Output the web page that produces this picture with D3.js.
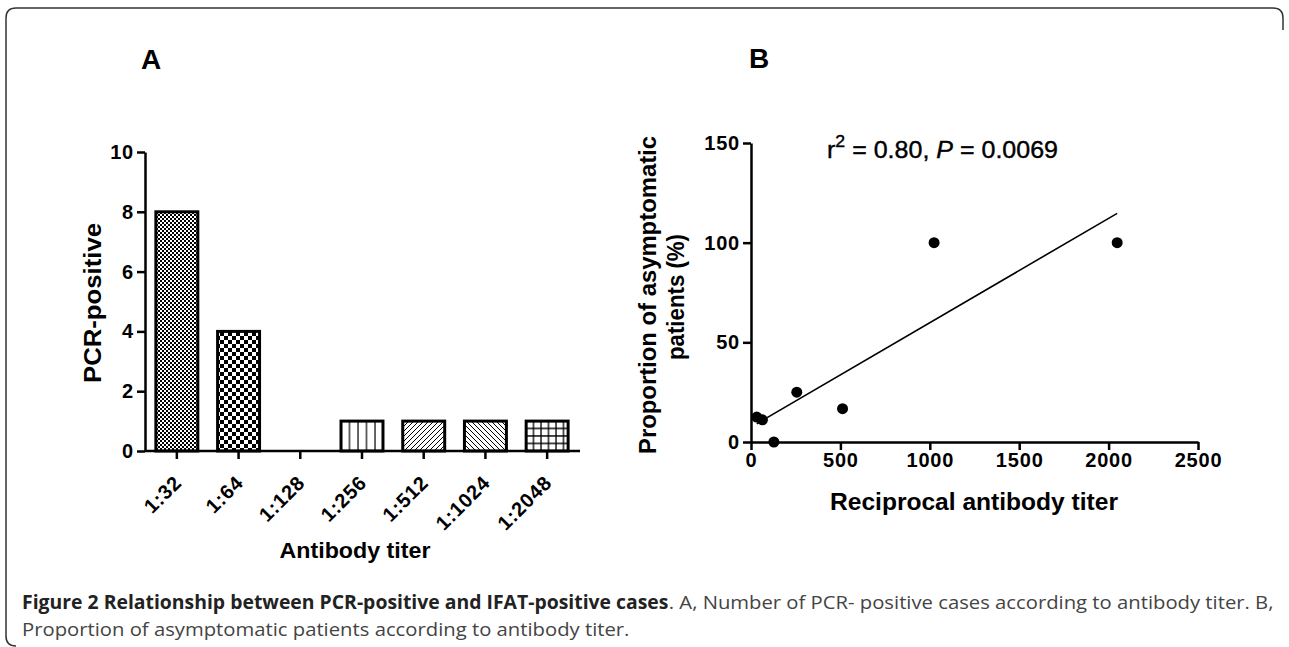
<!DOCTYPE html>
<html>
<head>
<meta charset="utf-8">
<script src="https://cdn.jsdelivr.net/npm/d3@7"></script>
<style>
  body { margin: 0; background: #fff; }
  svg { display: block; }
</style>
</head>
<body>
<svg id="fig" width="1289" height="647"></svg>
<script>
// panel A data
const titerLabels = ["1:32", "1:64", "1:128", "1:256", "1:512", "1:1024", "1:2048"];
const pcrPositive = [8, 4, 0, 1, 1, 1, 1];
const yTicksA = [0, 2, 4, 6, 8, 10];

// panel B data
const reciprocalTiter = [32, 64, 128, 256, 512, 1024, 2048];
const asymptomaticPct = [12.5, 11.1, 0, 25, 16.7, 100, 100];
const xTicksB = [0, 500, 1000, 1500, 2000, 2500];
const yTicksB = [0, 50, 100, 150];

const svg = d3.select("#fig");
const FONT = "'Liberation Sans', Arial, sans-serif";

// frame
svg.append("path")
    .attr("d", "M16,646 Q6,646 6,636 L6,18 Q6,8 16,8 L1273,8 Q1283,8 1283,18 L1283,30")
    .attr("fill", "none")
    .attr("stroke", "#333")
    .attr("stroke-width", 1.5);

// fill patterns for the bars
const defs = svg.append("defs");
function pattern(id, w, h, draw) {
    const p = defs.append("pattern").attr("id", id)
        .attr("patternUnits", "userSpaceOnUse").attr("width", w).attr("height", h);
    p.append("rect").attr("width", w).attr("height", h).attr("fill", "#fff");
    draw(p);
}
pattern("fineCheck", 4, 4, p => {
    p.append("rect").attr("width", 2).attr("height", 2).attr("fill", "#000");
    p.append("rect").attr("x", 2).attr("y", 2).attr("width", 2).attr("height", 2).attr("fill", "#000");
});
pattern("coarseCheck", 8, 8, p => {
    p.append("rect").attr("width", 4).attr("height", 4).attr("fill", "#000");
    p.append("rect").attr("x", 4).attr("y", 4).attr("width", 4).attr("height", 4).attr("fill", "#000");
});
pattern("vLines", 8.5, 8, p => {
    p.append("line").attr("x1", 1).attr("x2", 1).attr("y1", 0).attr("y2", 8).attr("stroke", "#000").attr("stroke-width", 1.2);
});
pattern("diagUp", 5, 5, p => {
    p.append("path").attr("d", "M-1,6 L6,-1 M-1,1 L1,-1 M4,6 L6,4").attr("stroke", "#000").attr("stroke-width", 1);
});
pattern("diagDown", 5, 5, p => {
    p.append("path").attr("d", "M-1,-1 L6,6 M4,-1 L6,1 M-1,4 L1,6").attr("stroke", "#000").attr("stroke-width", 1);
});
pattern("grid", 7.5, 7.5, p => {
    p.append("path").attr("d", "M1,0 V7.5 M0,1 H7.5").attr("stroke", "#000").attr("stroke-width", 1.3);
});
const barFills = ["fineCheck", "coarseCheck", "fineCheck", "vLines", "diagUp", "diagDown", "grid"];

// ---------- panel A ----------
const xA = d3.scaleBand().domain(titerLabels).range([146, 578]).paddingInner(0.32).paddingOuter(0.16);
const yA = d3.scaleLinear().domain([0, 10]).range([451, 152]);

svg.append("text").attr("x", 151).attr("y", 69).attr("text-anchor", "middle")
    .attr("font-family", FONT).attr("font-weight", "bold").attr("font-size", 28).text("A");

const barsA = titerLabels.map((t, i) => ({ t, v: pcrPositive[i], fill: barFills[i] })).filter(d => d.v > 0);
svg.append("g").selectAll("rect")
    .data(barsA)
    .enter().append("rect")
    .attr("x", d => xA(d.t))
    .attr("y", d => yA(d.v))
    .attr("width", xA.bandwidth())
    .attr("height", d => yA(0) - yA(d.v))
    .attr("fill", d => "url(#" + d.fill + ")")
    .attr("stroke", "#000")
    .attr("stroke-width", 3);

const yAxisA = svg.append("g")
    .attr("transform", "translate(145,0)")
    .call(d3.axisLeft(yA).tickValues(yTicksA).tickSize(8).tickSizeOuter(0).tickPadding(3));

const xAxisA = svg.append("g")
    .attr("transform", "translate(0,451)")
    .call(d3.axisBottom(xA).tickSize(8).tickSizeOuter(0));
xAxisA.select(".domain").attr("d", "M145,0H580");

svg.append("text").attr("x", 355).attr("y", 558).attr("text-anchor", "middle")
    .attr("font-family", FONT).attr("font-weight", "bold").attr("font-size", 22)
    .attr("textLength", 151).attr("lengthAdjust", "spacingAndGlyphs").text("Antibody titer");

svg.append("text").attr("transform", "translate(101,303) rotate(-90)").attr("text-anchor", "middle")
    .attr("font-family", FONT).attr("font-weight", "bold").attr("font-size", 24)
    .attr("textLength", 160).attr("lengthAdjust", "spacingAndGlyphs").text("PCR-positive");

// ---------- panel B ----------
const xB = d3.scaleLinear().domain([0, 2500]).range([751, 1198]);
const yB = d3.scaleLinear().domain([0, 150]).range([442, 143]);

svg.append("text").attr("x", 759).attr("y", 68).attr("text-anchor", "middle")
    .attr("font-family", FONT).attr("font-weight", "bold").attr("font-size", 28).text("B");

const yAxisB = svg.append("g")
    .attr("transform", "translate(751,0)")
    .call(d3.axisLeft(yB).tickValues(yTicksB).tickSize(8).tickSizeOuter(0).tickPadding(3));

const xAxisB = svg.append("g")
    .attr("transform", "translate(0,442)")
    .call(d3.axisBottom(xB).tickValues(xTicksB).tickFormat(d3.format("d"))
        .tickSize(8).tickSizeOuter(0).tickPadding(3));

// least squares fit over the points
const n = reciprocalTiter.length;
const mx = d3.mean(reciprocalTiter), my = d3.mean(asymptomaticPct);
let sxy = 0, sxx = 0;
for (let i = 0; i < n; i++) {
    sxy += (reciprocalTiter[i] - mx) * (asymptomaticPct[i] - my);
    sxx += (reciprocalTiter[i] - mx) ** 2;
}
const slope = sxy / sxx, intercept = my - slope * mx;
const fitX = d3.extent(reciprocalTiter);
svg.append("line")
    .attr("x1", xB(fitX[0])).attr("y1", yB(intercept + slope * fitX[0]))
    .attr("x2", xB(fitX[1])).attr("y2", yB(intercept + slope * fitX[1]))
    .attr("stroke", "#000").attr("stroke-width", 1.6);

svg.append("g").selectAll("circle")
    .data(reciprocalTiter)
    .enter().append("circle")
    .attr("cx", d => xB(d))
    .attr("cy", (d, i) => yB(asymptomaticPct[i]))
    .attr("r", 5.5)
    .attr("fill", "#000");

const stat = svg.append("text").attr("x", 827).attr("y", 158)
    .attr("font-family", FONT).attr("font-size", 24).attr("stroke", "#000").attr("stroke-width", 0.4)
    .attr("textLength", 231).attr("lengthAdjust", "spacingAndGlyphs");
stat.append("tspan").text("r");
stat.append("tspan").attr("dy", -11).attr("font-size", 17).text("2");
stat.append("tspan").attr("dy", 11).text(" = 0.80, ");
stat.append("tspan").attr("font-style", "italic").text("P");
stat.append("tspan").text(" = 0.0069");

svg.append("text").attr("x", 974).attr("y", 510).attr("text-anchor", "middle")
    .attr("font-family", FONT).attr("font-weight", "bold").attr("font-size", 23)
    .attr("textLength", 288).attr("lengthAdjust", "spacingAndGlyphs").text("Reciprocal antibody titer");

svg.append("text").attr("transform", "translate(656,295) rotate(-90)")
    .attr("text-anchor", "middle")
    .attr("font-family", FONT).attr("font-weight", "bold").attr("font-size", 24)
    .attr("textLength", 318).attr("lengthAdjust", "spacingAndGlyphs")
    .text("Proportion of asymptomatic");
svg.append("text").attr("transform", "translate(684,297) rotate(-90)")
    .attr("text-anchor", "middle")
    .attr("font-family", FONT).attr("font-weight", "bold").attr("font-size", 24)
    .attr("textLength", 126).attr("lengthAdjust", "spacingAndGlyphs")
    .text("patients (%)");

// shared axis styling
[yAxisA, xAxisA, yAxisB, xAxisB].forEach(g => {
    g.select(".domain").attr("stroke", "#000").attr("stroke-width", 2.5);
    g.selectAll(".tick line").attr("stroke", "#000").attr("stroke-width", 2.5);
    g.selectAll("text").attr("font-family", FONT).attr("font-weight", "bold")
        .attr("font-size", 20).attr("fill", "#000").attr("letter-spacing", 0.8);
});
xAxisA.selectAll("text")
    .attr("x", 0).attr("y", 0).attr("dy", 0)
    .attr("text-anchor", "end")
    .attr("font-size", 20)
    .attr("transform", "translate(6,33) rotate(-45)");

// caption: narrow face in the original; regular runs share one squeeze, bold fills the rest of line 1
const capFont = "'Open Sans', sans-serif";
function captionRun(str, bold) {
    return svg.append("text").attr("x", 0).attr("y", 0)
        .attr("font-family", capFont).attr("font-size", 19)
        .attr("font-weight", bold ? "bold" : "normal")
        .attr("fill", bold ? "#222" : "#444")
        .text(str);
}
const capBold = captionRun("Figure 2 Relationship between PCR-positive and IFAT-positive cases", true);
const capReg1 = captionRun(". A, Number of PCR- positive cases according to antibody titer. B,", false);
const capReg2 = captionRun("Proportion of asymptomatic patients according to antibody titer.", false);
const sReg = 608 / capReg2.node().getComputedTextLength();
const reg1W = capReg1.node().getComputedTextLength() * sReg;
const sBold = (1252 - reg1W) / capBold.node().getComputedTextLength();
capBold.attr("transform", "translate(22,609) scale(" + sBold + ",1)");
capReg1.attr("transform", "translate(" + (1274 - reg1W) + ",609) scale(" + sReg + ",1)");
capReg2.attr("transform", "translate(22,636) scale(" + sReg + ",1)");
</script>
</body>
</html>
